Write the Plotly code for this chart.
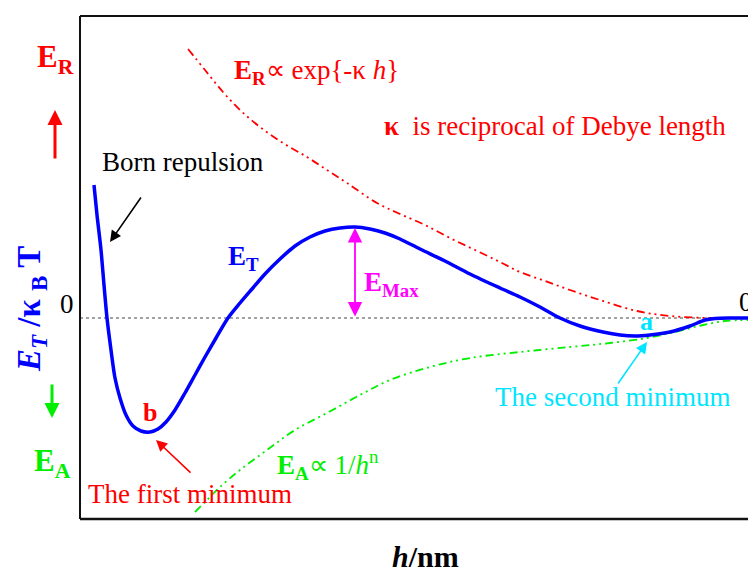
import plotly.graph_objects as go

# ---- data (arbitrary units: h along x, energy along y) ----
h_total = [1.4, 1.7, 2.1, 2.4, 2.7, 3.1, 3.5, 4.0, 4.6, 5.3, 6.1, 7.0, 7.8, 8.6, 9.5,
           10.5, 11.5, 12.5, 13.6, 14.8, 16.0, 17.2, 18.5, 20.0, 21.5, 23.0, 24.5,
           26.0, 27.5, 29.0, 30.5, 32.0, 34.0, 36.5, 39.0, 42.0, 44.0, 46.0, 48.0,
           50.0, 52.3, 54.0, 55.5, 57.0, 59.0, 61.0, 62.5, 63.5, 65.0, 66.8]
E_total = [13.3, 10.3, 6.8, 3.3, 0.0, -3.2, -6.0, -8.0, -9.7, -10.8, -11.3, -11.4,
           -11.1, -10.4, -9.2, -7.5, -5.7, -3.9, -2.0, 0.0, 1.5, 2.9, 4.4, 5.9, 7.2,
           8.1, 8.7, 9.0, 9.1, 8.9, 8.5, 7.9, 6.9, 5.7, 4.4, 3.0, 2.1, 1.1, 0.0,
           -0.8, -1.4, -1.7, -1.8, -1.7, -1.4, -0.8, -0.2, -0.05, 0.0, 0.0]

h_rep = [10.8, 12.5, 14.3, 16.0, 18.0, 20.3, 22.7, 24.7, 26.7, 29.7, 32.0, 34.5,
         37.0, 39.5, 42.0, 44.0, 46.5, 49.0, 52.0, 55.7, 59.0, 63.0, 66.8]
E_rep = [26.9, 24.8, 22.6, 20.8, 19.1, 17.5, 16.1, 14.8, 13.5, 11.5, 10.4, 9.3,
         8.0, 6.8, 5.6, 4.6, 3.7, 2.8, 1.8, 0.7, 0.2, 0.0, 0.0]

h_att = [11.5, 12.7, 14.0, 16.0, 18.7, 21.5, 24.7, 28.0, 31.0, 35.0, 39.0, 44.0,
         49.0, 53.0, 56.7, 59.5, 62.3, 64.5, 66.8]
E_att = [-19.4, -18.2, -16.9, -15.2, -13.2, -11.2, -9.5, -7.7, -6.2, -4.9, -4.0,
         -3.4, -2.9, -2.5, -2.0, -1.4, -0.7, -0.3, -0.2]

# ---- layout geometry ----
W, H = 748, 572
L, R, T, B = 80, 0, 16, 53
XR = [0, 66.8]
YR = [-20.1, 30.2]
FONT = "Liberation Serif, Times New Roman, serif"

def X(px):
    return (px - L) / 10.0

def Y(py):
    return (318 - py) / 10.0

def PX(px):
    return (px - L) / (W - L - R)

def PY(py):
    return (H - B - py) / (H - T - B)

BLUE, RED, GREEN, CYAN, MAG = "#0000FF", "#FF0000", "#00EE00", "#00E5FF", "#FF00FF"
DASH = "8px,4px,2px,4px,2px,4px"

fig = go.Figure()
fig.add_trace(go.Scatter(x=h_rep, y=E_rep, mode="lines",
                         line=dict(color=RED, width=1.8, dash=DASH, shape="spline"),
                         hoverinfo="skip"))
fig.add_trace(go.Scatter(x=h_att, y=E_att, mode="lines",
                         line=dict(color=GREEN, width=1.8, dash=DASH, shape="spline"),
                         hoverinfo="skip"))
fig.add_trace(go.Scatter(x=h_total, y=E_total, mode="lines",
                         line=dict(color=BLUE, width=3.5, shape="spline", smoothing=0.8),
                         hoverinfo="skip"))

shapes = [
    dict(type="line", xref="x", yref="y", x0=XR[0], x1=XR[1], y0=0, y1=0,
         line=dict(color="#444", width=1, dash="dot"), layer="below"),
    dict(type="line", xref="paper", yref="paper", x0=0, x1=0, y0=0, y1=1,
         line=dict(color="#111", width=2)),
    dict(type="line", xref="paper", yref="paper", x0=0, x1=1, y0=1, y1=1,
         line=dict(color="#111", width=2)),
    dict(type="line", xref="paper", yref="paper", x0=0, x1=1, y0=0, y1=0,
         line=dict(color="#111", width=2.5)),
]

ann = []

def text_data(px, py, txt, color, size=27, xanchor="center", yanchor="middle"):
    ann.append(dict(x=X(px), y=Y(py), xref="x", yref="y", text=txt, showarrow=False,
                    font=dict(family=FONT, size=size, color=color),
                    xanchor=xanchor, yanchor=yanchor))

def text_paper(px, py, txt, color, size=27, angle=0, xanchor="center"):
    ann.append(dict(x=PX(px), y=PY(py), xref="paper", yref="paper", text=txt,
                    showarrow=False, textangle=angle,
                    font=dict(family=FONT, size=size, color=color),
                    xanchor=xanchor, yanchor="middle"))

def arrow_data(tx, ty, hx, hy, color, width=1.6, head=2, size=1.2, both=False):
    ann.append(dict(x=X(hx), y=Y(hy), ax=X(tx), ay=Y(ty), xref="x", yref="y",
                    axref="x", ayref="y", text="", showarrow=True,
                    arrowhead=head, arrowsize=size, arrowwidth=width,
                    arrowcolor=color, startarrowhead=head, startarrowsize=size,
                    arrowside="end+start" if both else "end"))

def arrow_paper(tx, ty, hx, hy, color, width=3, head=2, size=1.0):
    ann.append(dict(x=PX(hx), y=PY(hy), xref="paper", yref="paper",
                    ax=tx - hx, ay=ty - hy, axref="pixel", ayref="pixel",
                    text="", showarrow=True, arrowhead=head, arrowsize=size,
                    arrowwidth=width, arrowcolor=color))

# in-plot labels
text_data(183, 162, "Born repulsion", "#000000")
arrow_data(142, 196, 110, 242, "#000000", width=1.6, size=1.4)
text_data(243, 258, "<b>E<sub>T</sub></b>", BLUE)
text_data(391, 284, "<b>E<sub>Max</sub></b>", MAG)
arrow_data(355, 318, 355, 228, MAG, width=1.8, size=1.6, both=True)
text_data(316, 72, "<b>E</b><sub><b>R</b></sub>\u221D exp{-\u03BA <i>h</i>}", RED)
text_data(555, 126, "<b>\u03BA</b>  is reciprocal of Debye length", RED)
text_data(646, 321, "<b>a</b>", CYAN, size=26)
arrow_data(617, 385, 647, 342, CYAN, width=1.6, size=1.4)
text_data(612, 397, "The second minimum", CYAN)
text_data(150, 412, "<b>b</b>", RED, size=26)
arrow_data(192, 474, 156, 440, RED, width=1.6, size=1.4)
text_data(190, 494, "The first minimum", RED)
text_data(328, 465, "<b>E</b><sub><b>A</b></sub>\u221D 1/<i>h</i><sup>n</sup>", GREEN)

# outside labels
text_paper(55, 59, "<b>E<sub>R</sub></b>", RED, size=31)
arrow_paper(55, 160, 55, 110, RED, width=3)
text_paper(31, 309, "<b><i>E</i><sub><i>T</i></sub> /\u03BA <sub>B</sub> T</b>", BLUE,
           size=33, angle=-90)
arrow_paper(52, 383, 52, 418, GREEN, width=3)
text_paper(52, 463, "<b>E<sub>A</sub></b>", GREEN, size=31)
text_paper(67, 304, "0", "#000000", size=27)
text_paper(737, 302, "0", "#000000", size=27, xanchor="left")
text_paper(425, 556, "<b><i>h</i>/nm</b>", "#000000", size=30)

fig.update_layout(
    width=W, height=H,
    margin=dict(l=L, r=R, t=T, b=B, pad=0),
    paper_bgcolor="white", plot_bgcolor="white",
    showlegend=False,
    xaxis=dict(range=XR, visible=False, fixedrange=True),
    yaxis=dict(range=YR, visible=False, fixedrange=True),
    shapes=shapes, annotations=ann,
)

fig.write_html("out.html")
